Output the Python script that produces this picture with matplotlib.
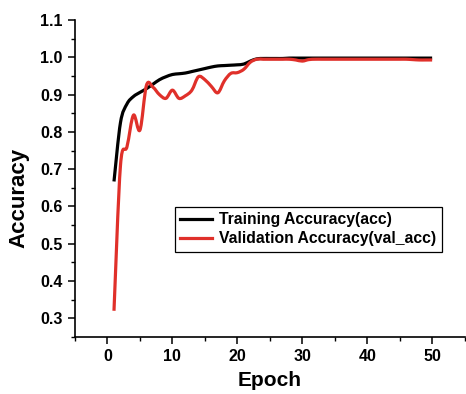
import matplotlib
matplotlib.use("Agg")
import matplotlib.pyplot as plt
import numpy as np
from matplotlib.path import Path
from matplotlib.patches import PathPatch
from matplotlib.lines import Line2D
from matplotlib.ticker import MultipleLocator

plt.rcParams['font.family'] = ['Liberation Sans', 'DejaVu Sans']
plt.rcParams['font.weight'] = 'bold'

epochs = list(range(1, 51))

train_acc = [0.667, 0.825, 0.875, 0.895, 0.906, 0.916, 0.928, 0.940, 0.948, 0.954,
             0.956, 0.958, 0.962, 0.966, 0.970, 0.974, 0.977, 0.978, 0.979, 0.980,
             0.982, 0.990, 0.996, 0.997, 0.997, 0.997, 0.997, 0.998, 0.998, 0.998,
             0.998, 0.998, 0.998, 0.998, 0.998, 0.998, 0.998, 0.998, 0.998, 0.998,
             0.998, 0.998, 0.998, 0.998, 0.998, 0.998, 0.998, 0.998, 0.998, 0.998]

val_acc = [0.320, 0.710, 0.760, 0.845, 0.805, 0.925, 0.920, 0.900, 0.890, 0.912,
           0.890, 0.897, 0.912, 0.948, 0.940, 0.922, 0.905, 0.937, 0.957, 0.959,
           0.968, 0.987, 0.995, 0.995, 0.995, 0.995, 0.995, 0.995, 0.993, 0.990,
           0.994, 0.995, 0.995, 0.995, 0.995, 0.995, 0.995, 0.995, 0.995, 0.995,
           0.995, 0.995, 0.995, 0.995, 0.995, 0.995, 0.994, 0.993, 0.993, 0.993]

TRAIN_COLOR = 'black'
VAL_COLOR = '#e0302a'
LINE_W = 2.3


def spline_path(x, y):
    """Catmull-Rom curve through the points, expressed as cubic Bezier segments."""
    p = np.column_stack([x, y]).astype(float)
    ext = np.vstack([p[0], p, p[-1]])
    verts = [p[0]]
    codes = [Path.MOVETO]
    for i in range(len(p) - 1):
        p0, p1, p2, p3 = ext[i], ext[i + 1], ext[i + 2], ext[i + 3]
        c1 = p1 + (p2 - p0) / 6.0
        c2 = p2 - (p3 - p1) / 6.0
        verts += [c1, c2, p2]
        codes += [Path.CURVE4] * 3
    return Path(verts, codes)


fig = plt.figure(figsize=(4.66, 3.94), dpi=100)
ax = fig.add_axes([0.161, 0.145, 0.836, 0.804])

for ys, col in ((train_acc, TRAIN_COLOR), (val_acc, VAL_COLOR)):
    patch = PathPatch(spline_path(epochs, ys), facecolor='none', edgecolor=col,
                      lw=LINE_W, capstyle='butt', joinstyle='round',
                      transform=ax.transData)
    ax.add_patch(patch)

ax.set_xlim(-5, 55)
ax.set_ylim(0.25, 1.1)
ax.set_xticks([0, 10, 20, 30, 40, 50])
ax.set_yticks([0.3, 0.4, 0.5, 0.6, 0.7, 0.8, 0.9, 1.0, 1.1])
ax.xaxis.set_minor_locator(MultipleLocator(5))
ax.yaxis.set_minor_locator(MultipleLocator(0.05))

for s in ('top', 'right'):
    ax.spines[s].set_visible(False)
for s in ('left', 'bottom'):
    ax.spines[s].set_linewidth(1.2)

ax.tick_params(which='major', direction='out', length=5, width=1.1, labelsize=11.5, pad=4)
ax.tick_params(which='minor', direction='out', length=3, width=1.0)
for lbl in ax.get_xticklabels() + ax.get_yticklabels():
    lbl.set_fontweight('bold')

ax.set_xlabel('Epoch', fontsize=15, fontweight='bold', labelpad=5)
ax.set_ylabel('Accuracy', fontsize=16, fontweight='bold')
ax.yaxis.set_label_coords(-0.118, 0.438)

handles = [Line2D([], [], color=TRAIN_COLOR, lw=LINE_W),
           Line2D([], [], color=VAL_COLOR, lw=LINE_W)]
labels = ['Training Accuracy(acc)', 'Validation Accuracy(val_acc)']
leg = ax.legend(handles, labels, loc='upper left', bbox_to_anchor=(0.256, 0.41),
                fontsize=11.3, frameon=True, fancybox=False, edgecolor='black',
                framealpha=1, handlelength=2.0, handletextpad=0.5, borderpad=0.35,
                labelspacing=0.25, borderaxespad=0)
leg.get_frame().set_linewidth(0.9)
for t in leg.get_texts():
    t.set_fontweight('bold')

fig.savefig('out.png', dpi=100)
